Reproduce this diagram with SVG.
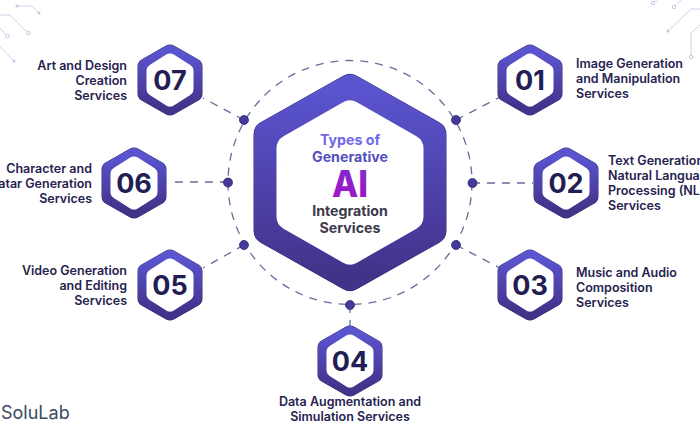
<svg xmlns="http://www.w3.org/2000/svg" width="700" height="441" viewBox="0 0 700 441">
<style>
text{font-family:"Inter","Liberation Sans",sans-serif}
.lbl{font-size:12.5px;font-weight:600;fill:#26234f}
.r{text-anchor:end}
.m{text-anchor:middle}
.num{font-size:27px;font-weight:700;fill:#221d55;text-anchor:middle}
.ct{font-size:14.2px;font-weight:700;text-anchor:middle}
.dash{fill:none;stroke:#666e9b;stroke-width:1.3;stroke-dasharray:8 7}
.dot{fill:#453a9c;stroke:#2c2a6a;stroke-width:.8}
.cir{fill:none;stroke:#cfd2e8;stroke-width:1}
.cd{fill:#c3c7e2}
.co{fill:#fff;stroke:#c3c7e2;stroke-width:1}
</style>
<defs>
<linearGradient id="hexG" x1="0" y1="0" x2="0" y2="1"><stop offset="0" stop-color="#5a54cf"/><stop offset="1" stop-color="#433289"/></linearGradient>
<linearGradient id="aiG" x1="0" y1="0" x2="0" y2="1"><stop offset="0" stop-color="#7a2fd0"/><stop offset="1" stop-color="#a70fc4"/></linearGradient>
<g id="sh">
<polygon points="0,-27.500 24.500,-13.500 24.500,13.500 0,27.500 -24.500,13.500 -24.500,-13.500" fill="#2f2c6b" stroke="#2f2c6b" stroke-width="16" stroke-linejoin="round"/>
<polygon points="0,-27 24,-13.500 24,13.500 0,27 -24,13.500 -24,-13.500" fill="url(#hexG)" stroke="url(#hexG)" stroke-width="16" stroke-linejoin="round"/>
<polygon points="0,-19.500 16.500,-9 16.500,9 0,19.500 -16.500,9 -16.500,-9" fill="#fff" stroke="#fff" stroke-width="14" stroke-linejoin="round"/>
</g>
</defs>
<rect width="700" height="441" fill="#fff"/>
<g id="decor">
<path class="cir" d="M17,6H32L39,13M0,15H10L28,33M0,28L7,36M0,47L14,61M653,3L657,0M674,7L681,0M668,31L691,9H700M691,57V33L700,25"/>
<circle class="cd" cx="17" cy="6" r="1.5"/><circle class="cd" cx="39" cy="13" r="1.5"/><circle class="co" cx="28.500" cy="33" r="1.7"/><circle class="co" cx="7.500" cy="36" r="1.7"/><circle class="cd" cx="14" cy="61" r="1.5"/>
<circle class="co" cx="653" cy="3" r="1.7"/><circle class="co" cx="674" cy="7" r="1.7"/><circle class="cd" cx="668" cy="31" r="1.5"/><circle class="co" cx="691" cy="57" r="1.7"/>
</g>
<g id="connectors">
<circle class="dash" cx="350" cy="182.500" r="122"/>
<path class="dash" d="M456,120L500,97M472,183H533M456,245L500,268M350,305V326M244,245L203,268M228,182H168M244,120L203,98"/>
<circle class="dot" cx="456" cy="120" r="4.500"/><circle class="dot" cx="472.500" cy="183" r="4.500"/><circle class="dot" cx="456" cy="245" r="4.500"/><circle class="dot" cx="350" cy="305" r="4.500"/><circle class="dot" cx="244" cy="245" r="4.500"/><circle class="dot" cx="228" cy="182.500" r="4.500"/><circle class="dot" cx="244" cy="120" r="4.500"/>
</g>
<g id="center">
<g transform="translate(350,182.500)">
<polygon points="0,-94.500 82.500,-48 82.500,48 0,94.500 -82.500,48 -82.500,-48" fill="#2f2c6b" stroke="#2f2c6b" stroke-width="28" stroke-linejoin="round"/>
<polygon points="0,-94 82,-48 82,48 0,94 -82,48 -82,-48" fill="url(#hexG)" stroke="url(#hexG)" stroke-width="28" stroke-linejoin="round"/>
<polygon points="0,-68 59.500,-34 59.500,34 0,68 -59.500,34 -59.500,-34" fill="#fff" stroke="#fff" stroke-width="28" stroke-linejoin="round"/>
</g>
<text class="ct" x="350" y="145" fill="#6f69ea">Types of</text>
<text class="ct" x="350" y="161.500" fill="#5350bf">Generative</text>
<text x="350" y="197" font-size="37" font-weight="800" text-anchor="middle" textLength="36" lengthAdjust="spacingAndGlyphs" fill="url(#aiG)">AI</text>
<text class="ct" x="350" y="216" fill="#3c3a4c">Integration</text>
<text class="ct" x="350" y="232.500" fill="#3c3a4c">Services</text>
</g>
<g id="n01"><use href="#sh" x="530" y="80"/><text class="num" x="530" y="90">01</text>
<text class="lbl" x="576" y="68">Image Generation</text><text class="lbl" x="576" y="83">and Manipulation</text><text class="lbl" x="576" y="98">Services</text></g>
<g id="n02"><use href="#sh" x="566" y="183"/><text class="num" x="566" y="193">02</text>
<text class="lbl" x="608" y="165">Text Generation</text><text class="lbl" x="608" y="180">Natural Language</text><text class="lbl" x="608" y="195">Processing (NLP)</text><text class="lbl" x="608" y="210">Services</text></g>
<g id="n03"><use href="#sh" x="530" y="285"/><text class="num" x="530" y="295">03</text>
<text class="lbl" x="576" y="277">Music and Audio</text><text class="lbl" x="576" y="292">Composition</text><text class="lbl" x="576" y="307">Services</text></g>
<g id="n04"><use href="#sh" x="350" y="361"/><text class="num" x="350" y="371">04</text>
<text class="lbl m" x="350" y="406">Data Augmentation and</text><text class="lbl m" x="350" y="421">Simulation Services</text></g>
<g id="n05"><use href="#sh" x="170" y="285"/><text class="num" x="170" y="295">05</text>
<text class="lbl r" x="127" y="275">Video Generation</text><text class="lbl r" x="127" y="290">and Editing</text><text class="lbl r" x="127" y="305">Services</text></g>
<g id="n06"><use href="#sh" x="134" y="183"/><text class="num" x="134" y="193">06</text>
<text class="lbl r" x="92" y="173">Character and</text><text class="lbl r" x="92" y="188">Avatar Generation</text><text class="lbl r" x="92" y="203">Services</text></g>
<g id="n07"><use href="#sh" x="170" y="80"/><text class="num" x="170" y="90">07</text>
<text class="lbl r" x="127" y="70">Art and Design</text><text class="lbl r" x="127" y="85">Creation</text><text class="lbl r" x="127" y="100">Services</text></g>
<text id="brand" x="1" y="419" font-size="18" fill="#3b4a60">SoluLab</text>
</svg>
